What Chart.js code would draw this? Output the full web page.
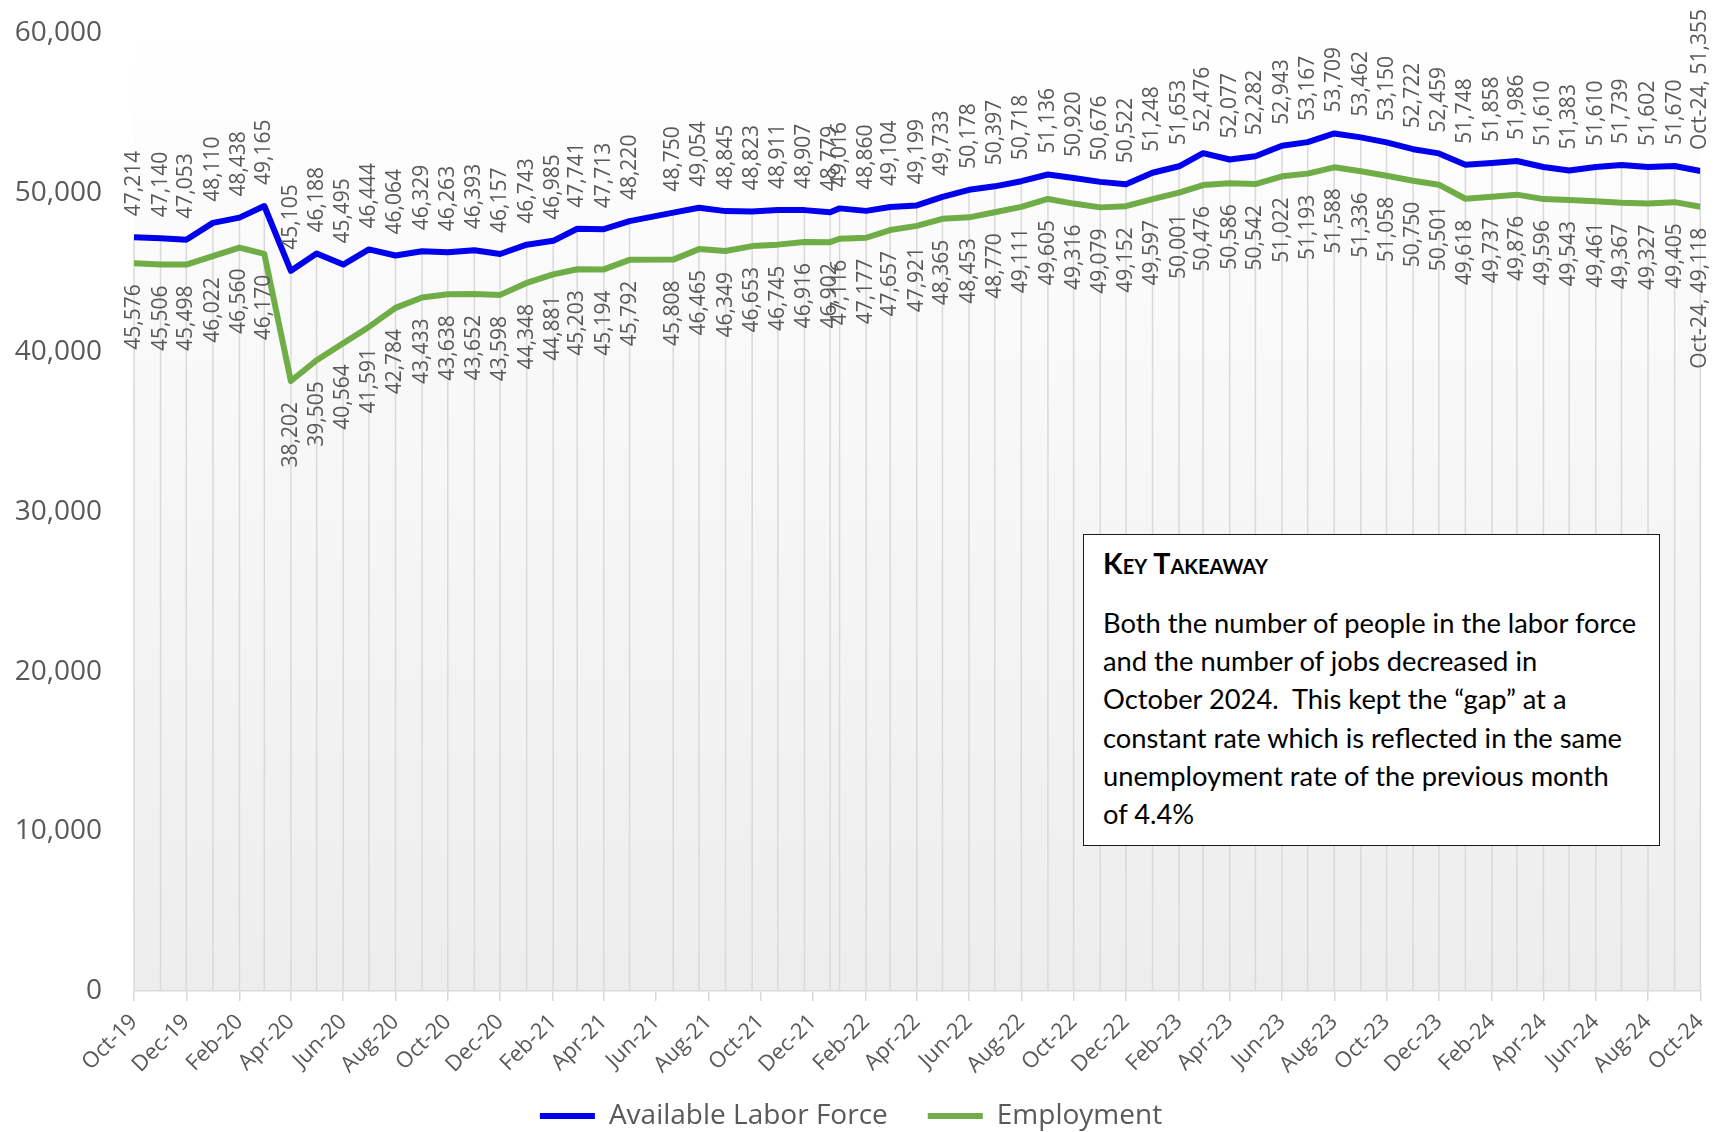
<!DOCTYPE html>
<html>
<head>
<meta charset="utf-8">
<script src="https://cdn.jsdelivr.net/npm/chart.js@4.4.1/dist/chart.umd.min.js"></script>
<style>
html,body{margin:0;padding:0;background:#fff;overflow:hidden}
#wrap{position:relative;width:1727px;height:1132px}
canvas{display:block}
#box{position:absolute;left:1083px;top:534px;width:577px;height:312px;box-sizing:border-box;border:1.5px solid #1a1a1a;background:#fff;font-family:Lato,"Liberation Sans",sans-serif;color:#000}
#box .h{position:absolute;left:19px;top:13px;line-height:30px;font-weight:bold;font-variant:small-caps;font-size:24px;white-space:pre}
#box .b{position:absolute;left:19px;top:69px;line-height:38.2px;font-size:24px;white-space:pre}
</style>
</head>
<body>
<div id="wrap">
<canvas id="c" width="1727" height="1132"></canvas>
<div id="box"><div class="h" id="head">Key Takeaway</div><div class="b" id="body">Both the number of people in the labor force
and the number of jobs decreased in
October 2024.  This kept the “gap” at a
constant rate which is reflected in the same
unemployment rate of the previous month
of 4.4%</div></div>
</div>
<script>
// ---------- DATA ----------
const dates = [
  '2019-10-01','2019-11-01','2019-12-01',
  '2020-01-01','2020-02-01','2020-03-01','2020-04-01','2020-05-01','2020-06-01',
  '2020-07-01','2020-08-01','2020-09-01','2020-10-01','2020-11-01','2020-12-01',
  '2021-01-01','2021-02-01','2021-03-01','2021-04-01','2021-05-01',
  '2021-06-21','2021-07-21','2021-08-21','2021-09-21','2021-10-21','2021-11-21','2021-12-21',
  '2022-01-01','2022-02-01','2022-03-01','2022-04-01','2022-05-01','2022-06-01',
  '2022-07-01','2022-08-01','2022-09-01','2022-10-01','2022-11-01','2022-12-01',
  '2023-01-01','2023-02-01','2023-03-01','2023-04-01','2023-05-01','2023-06-01',
  '2023-07-01','2023-08-01','2023-09-01','2023-10-01','2023-11-01','2023-12-01',
  '2024-01-01','2024-02-01','2024-03-01','2024-04-01','2024-05-01','2024-06-01',
  '2024-07-01','2024-08-01','2024-09-01','2024-10-01'
];

const laborForce = [
  47214, 47140, 47053, 48110, 48438, 49165, 45105, 46188, 45495, 46444,
  46064, 46329, 46263, 46393, 46157, 46743, 46985, 47741, 47713, 48220,
  48750, 49054, 48845, 48823, 48911, 48907, 48779,
  49016, 48860, 49104, 49199, 49733, 50178, 50397, 50718, 51136, 50920,
  50676, 50522, 51248, 51653, 52476, 52077, 52282, 52943, 53167, 53709,
  53462, 53150, 52722, 52459, 51748, 51858, 51986, 51610, 51383, 51610,
  51739, 51602, 51670, 51355
];

const employment = [
  45576, 45506, 45498, 46022, 46560, 46170, 38202, 39505, 40564, 41591,
  42784, 43433, 43638, 43652, 43598, 44348, 44881, 45203, 45194, 45792,
  45808, 46465, 46349, 46653, 46745, 46916, 46902,
  47116, 47177, 47657, 47921, 48365, 48453, 48770, 49111, 49605, 49316,
  49079, 49152, 49597, 50001, 50476, 50586, 50542, 51022, 51193, 51588,
  51336, 51058, 50750, 50501, 49618, 49737, 49876, 49596, 49543, 49461,
  49367, 49327, 49405, 49118
];

const tickLabels = [
  'Oct-19','Dec-19','Feb-20','Apr-20','Jun-20','Aug-20','Oct-20','Dec-20',
  'Feb-21','Apr-21','Jun-21','Aug-21','Oct-21','Dec-21','Feb-22','Apr-22',
  'Jun-22','Aug-22','Oct-22','Dec-22','Feb-23','Apr-23','Jun-23','Aug-23',
  'Oct-23','Dec-23','Feb-24','Apr-24','Jun-24','Aug-24','Oct-24'
];

const yTicks = [0, 10000, 20000, 30000, 40000, 50000, 60000];

// ---------- helpers ----------
const MONTHS = ['Jan','Feb','Mar','Apr','May','Jun','Jul','Aug','Sep','Oct','Nov','Dec'];
function dayNum(iso){ const [y,m,d] = iso.split('-').map(Number); return Date.UTC(y, m-1, d)/864e5; }
function tickDay(lbl){ const [mon, yy] = lbl.split('-'); return Date.UTC(2000+Number(yy), MONTHS.indexOf(mon), 1)/864e5; }
function monLabel(iso){ const [y,m] = iso.split('-').map(Number); return MONTHS[m-1] + '-' + String(y).slice(2); }
const fmt = v => v.toLocaleString('en-US');

const tickValues = tickLabels.map(tickDay);
const xMin = tickValues[0], xMax = tickValues[tickValues.length-1];

// ---------- fit text box font ----------
(function(){
  const mc = document.createElement('canvas').getContext('2d');
  mc.font = '100px Lato';
  const w = mc.measureText('Both the number of people in the labor force').width;
  const fs = 100*535/w;
  document.getElementById('body').style.fontSize = fs.toFixed(2)+'px';
  document.getElementById('head').style.fontSize = (fs*1.05).toFixed(2)+'px';
})();

// ---------- plugins ----------
const bgPlugin = {
  id:'bg',
  beforeDraw(chart){
    const {ctx, chartArea:a} = chart;
    const g = ctx.createLinearGradient(0, a.top, 0, a.bottom);
    g.addColorStop(0, '#FFFFFF');
    g.addColorStop(1, '#EDEDED');
    ctx.save(); ctx.fillStyle = g;
    ctx.fillRect(a.left, a.top, a.right-a.left, a.bottom-a.top);
    ctx.restore();
  }
};
const dropPlugin = {
  id:'drop',
  beforeDatasetsDraw(chart){
    const {ctx, chartArea:a} = chart;
    const m0 = chart.getDatasetMeta(0), m1 = chart.getDatasetMeta(1);
    ctx.save(); ctx.strokeStyle = '#D9D9D9'; ctx.lineWidth = 1.5;
    m0.data.forEach((p,i)=>{
      const top = Math.min(p.y, m1.data[i].y);
      ctx.beginPath(); ctx.moveTo(p.x, top); ctx.lineTo(p.x, a.bottom); ctx.stroke();
    });
    ctx.restore();
  }
};
const labelPlugin = {
  id:'vlabels',
  afterDatasetsDraw(chart){
    const ctx = chart.ctx;
    const m0 = chart.getDatasetMeta(0), m1 = chart.getDatasetMeta(1);
    const last = dates.length-1;
    ctx.save();
    ctx.font = '21px "Open Sans"';
    ctx.fillStyle = '#595959';
    ctx.textBaseline = 'middle';
    m0.data.forEach((p,i)=>{
      let t = fmt(laborForce[i]);
      if (i === last) t = monLabel(dates[i]) + ', ' + t;
      ctx.save(); ctx.translate(p.x, p.y - 21); ctx.rotate(-Math.PI/2);
      ctx.textAlign = 'left'; ctx.fillText(t, 0, 0); ctx.restore();
    });
    m1.data.forEach((p,i)=>{
      let t = fmt(employment[i]);
      if (i === last) t = monLabel(dates[i]) + ', ' + t;
      ctx.save(); ctx.translate(p.x, p.y + 21); ctx.rotate(-Math.PI/2);
      ctx.textAlign = 'right'; ctx.fillText(t, 0, 0); ctx.restore();
    });
    ctx.restore();
  }
};

Chart.defaults.font.family = '"Open Sans", "DejaVu Sans", sans-serif';

new Chart(document.getElementById('c'), {
  type: 'line',
  data: {
    datasets: [
      { label:'Available Labor Force', data: dates.map((d,i)=>({x:dayNum(d), y:laborForce[i]})),
        borderColor:'#0000EE', backgroundColor:'#0000EE', borderWidth:6, pointRadius:0, tension:0,
        borderJoinStyle:'round' },
      { label:'Employment', data: dates.map((d,i)=>({x:dayNum(d), y:employment[i]})),
        borderColor:'#70AD47', backgroundColor:'#70AD47', borderWidth:6, pointRadius:0, tension:0,
        borderJoinStyle:'round' }
    ]
  },
  options: {
    responsive:false, animation:false, devicePixelRatio:1,
    layout:{ padding:{ top:33, right:25, left:0, bottom:-8 } },
    plugins:{
      legend:{ position:'bottom',
        labels:{ boxWidth:55, boxHeight:6, padding:40, color:'#595959', font:{size:28},
          generateLabels: (chart) => Chart.defaults.plugins.legend.labels.generateLabels(chart).map(l => Object.assign(l, {lineWidth:0})) } },
      tooltip:{ enabled:false }
    },
    scales:{
      x:{ type:'linear', min:xMin, max:xMax, offset:false,
        afterBuildTicks: s => { s.ticks = tickValues.map(v => ({value:v})); },
        afterFit: s => { s.height = 71; s._computeLabelArea = () => null; },
        grid:{ drawOnChartArea:false, drawTicks:true, tickLength:10, color:'#D9D9D9', lineWidth:1.5 },
        border:{ display:true, color:'#D9D9D9', width:1.5 },
        ticks:{ autoSkip:false, maxRotation:45, minRotation:45, padding:8, color:'#595959', font:{size:22},
          callback: (v,i) => tickLabels[i] } },
      y:{ min:0, max:60000,
        afterBuildTicks: s => { s.ticks = yTicks.map(v => ({value:v})); },
        afterFit: s => { s.width = 134; s.paddingTop = 0; s.paddingBottom = 0; },
        grid:{ display:false, drawTicks:false },
        border:{ display:false },
        ticks:{ padding:32, color:'#595959', font:{size:28}, callback: v => fmt(v) } }
    }
  },
  plugins:[bgPlugin, dropPlugin, labelPlugin]
});
</script>
</body>
</html>
